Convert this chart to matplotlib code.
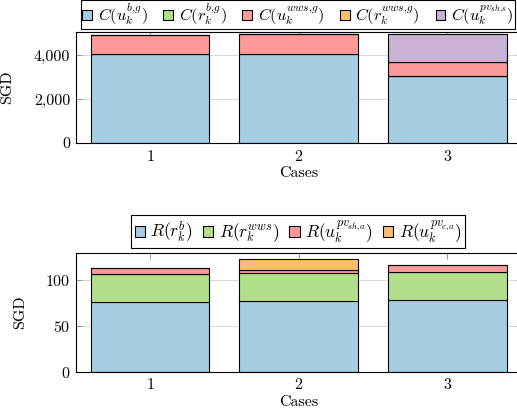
import numpy as np
import matplotlib
matplotlib.use("Agg")
import matplotlib.pyplot as plt
from matplotlib.ticker import FuncFormatter

plt.rcParams['font.family'] = 'serif'
plt.rcParams['font.serif'] = ['cmr10', 'DejaVu Serif']
plt.rcParams['mathtext.fontset'] = 'cm'
plt.rcParams['axes.formatter.use_mathtext'] = True
plt.rcParams['font.size'] = 11.5

# data
cases = [1, 2, 3]

# costs (top panel)
cost_u_bg = [4040, 4030, 3060]
cost_r_bg = [0, 0, 0]
cost_u_wws = [850, 930, 610]
cost_r_wws = [0, 0, 0]
cost_u_pvsh = [0, 0, 1270]
cost_labels = [r'$C(u_k^{b{,}g})$', r'$C(r_k^{b{,}g})$', r'$C(u_k^{wws{,}g})$',
               r'$C(r_k^{wws{,}g})$', r'$C(u_k^{pv_{sh{,}s}})$']

# revenues (bottom panel)
rev_r_b = [76.5, 77.0, 78.0]
rev_r_wws = [30.5, 30.3, 30.6]
rev_u_pvsh = [6.0, 3.5, 7.7]
rev_u_pve = [0, 12.0, 0]
rev_labels = [r'$R(r_k^{b})$', r'$R(r_k^{wws})$', r'$R(u_k^{pv_{sh{,}a}})$',
              r'$R(u_k^{pv_{e{,}a}})$']

colors = ['#a6cee3', '#b2df8a', '#fb9a99', '#fdbf6f', '#cab2d6']

W, H = 517, 415
fig = plt.figure(figsize=(W / 100, H / 100), dpi=100)

def px_axes(left, top, right, bottom):
    return fig.add_axes([left / W, 1 - bottom / H, (right - left) / W, (bottom - top) / H])

ax1 = px_axes(75.7, 31.7, 521.6, 143)
ax2 = px_axes(75.7, 252.7, 521.6, 371.7)

def stacked(ax, series, labels):
    bottom = np.zeros(len(cases))
    for vals, lab, col in zip(series, labels, colors):
        ax.bar(cases, vals, 0.8, bottom=bottom, color=col, edgecolor='black',
               linewidth=0.8, label=lab, zorder=3)
        bottom += np.array(vals)

def style(ax, ylab_x):
    ax.set_xlim(0.5, 3.5)
    ax.set_xticks(cases)
    ax.grid(axis='y', color='#d3d3d3', linewidth=0.6, zorder=0)
    ax.tick_params(direction='in', length=4, color='#888888', width=0.6,
                   top=True, right=True, labelcolor='black', pad=4)
    for s in ax.spines.values():
        s.set_linewidth(0.8)
        s.set_zorder(4)
    ax.set_xlabel('Cases', labelpad=2)
    ax.set_ylabel('SGD')
    ax.yaxis.set_label_coords(ylab_x, 0.5)

stacked(ax1, [cost_u_bg, cost_r_bg, cost_u_wws, cost_r_wws, cost_u_pvsh], cost_labels)
style(ax1, -0.138)
ax1.set_ylim(0, 5060)
ax1.set_yticks([0, 2000, 4000])
ax1.yaxis.set_major_formatter(FuncFormatter(lambda v, p: f'{int(v):,}'))

stacked(ax2, [rev_r_b, rev_r_wws, rev_u_pvsh, rev_u_pve], rev_labels)
style(ax2, -0.109)
ax2.set_ylim(0, 130)
ax2.set_yticks([0, 50, 100])

frame_kw = dict(fancybox=False, edgecolor='black', framealpha=1,
                handlelength=0.6, handleheight=0.6, borderaxespad=0)
l1 = fig.legend(handles=ax1.containers, labels=cost_labels, ncol=5,
                loc='upper center', bbox_to_anchor=(298 / W, 1 - 0.5 / H),
                handletextpad=0.35, columnspacing=0.95, borderpad=0.08,
                fontsize=11.8, **frame_kw)
l2 = fig.legend(handles=ax2.containers, labels=rev_labels, ncol=4,
                loc='lower center', bbox_to_anchor=(298 / W, 1 - 248.3 / H),
                handletextpad=0.3, columnspacing=0.6, borderpad=0.2,
                fontsize=12.5, **frame_kw)
for l in (l1, l2):
    l.get_frame().set_linewidth(0.8)

fig.savefig('out.png', dpi=100)
